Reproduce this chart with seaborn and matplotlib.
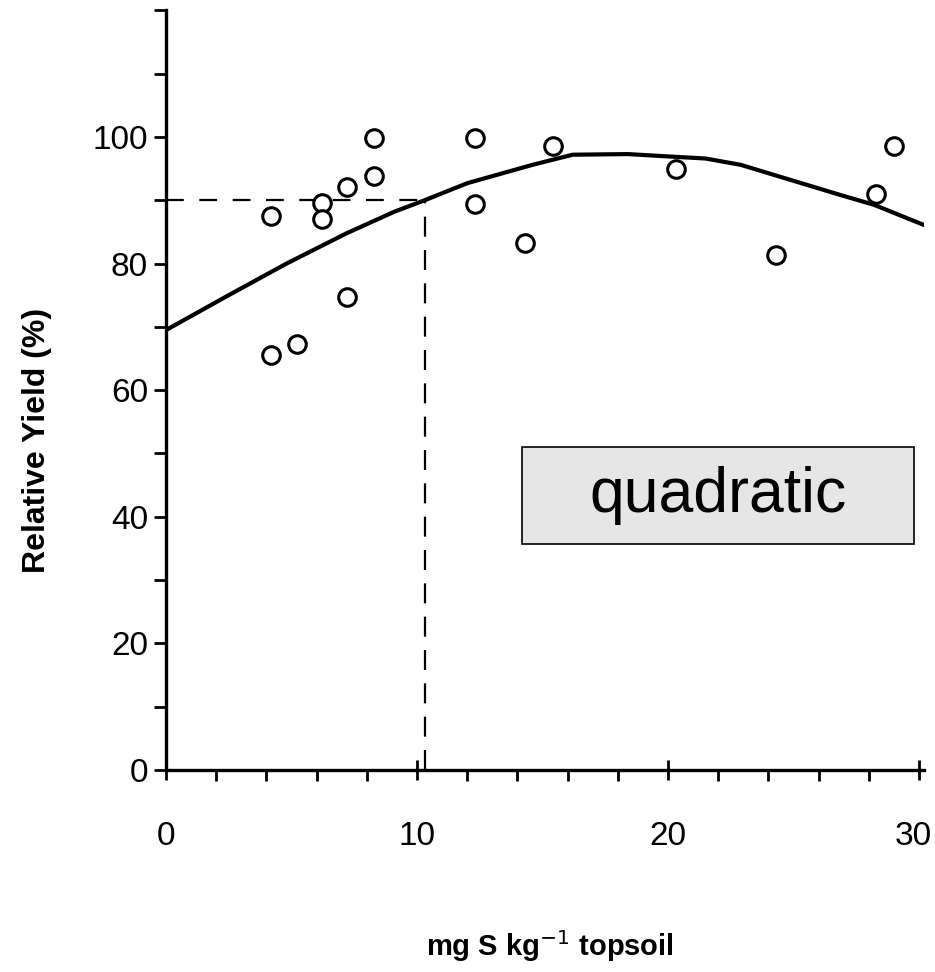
import matplotlib
matplotlib.use("Agg")
import matplotlib.pyplot as plt
import matplotlib.transforms as mtransforms
import seaborn as sns
import pandas as pd
from matplotlib.patches import Rectangle
from matplotlib.ticker import FixedLocator

# ---- data ----
soil_s = [4.2, 4.2, 5.2, 6.2, 6.2, 7.2, 7.2, 8.3, 8.3, 12.3, 12.3, 14.3, 15.4, 20.3, 24.3, 28.3, 29.0]
rel_yield = [87.5, 65.6, 67.3, 89.6, 87.0, 92.1, 74.8, 99.9, 93.8, 99.8, 89.4, 83.2, 98.5, 94.9, 81.4, 91.0, 98.5]

curve_x = [0, 2.4, 4.8, 7.2, 9.1, 10.3, 12.0, 14.6, 16.2, 18.4, 19.7, 21.5, 22.9, 24.9, 26.9, 28.2, 30.2]
curve_y = [69.5, 74.8, 80.0, 84.8, 88.2, 90.0, 92.7, 95.6, 97.2, 97.3, 97.0, 96.6, 95.6, 93.2, 90.8, 89.3, 86.1]

critical_x = 10.3
critical_y = 90

x_ticks = [0, 10, 20, 30]
y_ticks = [0, 20, 40, 60, 80, 100]
box_label = "quadratic"

pts = pd.DataFrame({"s": soil_s, "y": rel_yield})
crv = pd.DataFrame({"x": curve_x, "y": curve_y})

sns.set_theme(style="white")
plt.rcParams["font.family"] = ["Liberation Sans", "DejaVu Sans"]
plt.rcParams["text.color"] = "black"
plt.rcParams["xtick.color"] = "black"
plt.rcParams["ytick.color"] = "black"
plt.rcParams["axes.labelcolor"] = "black"

fig = plt.figure(figsize=(9.35, 9.72), dpi=100)
ax = fig.add_axes([166 / 935, 1 - 770 / 972, (924 - 166) / 935, 759.6 / 972])

# dashed critical-level lines
ax.plot([0, critical_x], [critical_y, critical_y], color="black", lw=1.6,
        dashes=(8, 7), zorder=2)
ax.plot([critical_x, critical_x], [0, critical_y], color="black", lw=1.6,
        dashes=(9, 6), zorder=2)

sns.lineplot(data=crv, x="x", y="y", ax=ax, color="black", linewidth=3.0,
             sort=True, zorder=3)
sns.scatterplot(data=pts, x="s", y="y", ax=ax, s=160, facecolor="white",
                edgecolor="black", linewidth=2.2, zorder=4)

ax.set_xlim(0, 30.2)
ax.set_ylim(0, 120)

for side in ["top", "right"]:
    ax.spines[side].set_visible(False)
for side in ["left", "bottom"]:
    ax.spines[side].set_linewidth(2.4)
    ax.spines[side].set_color("black")

ax.set_xticks(x_ticks)
ax.set_xticklabels([str(v) for v in x_ticks])
ax.set_yticks(y_ticks)
ax.set_yticklabels([str(v) for v in y_ticks])
ax.xaxis.set_minor_locator(FixedLocator([2, 4, 6, 8, 12, 14, 16, 18, 22, 24, 26, 28]))
ax.yaxis.set_minor_locator(FixedLocator([10, 30, 50, 70, 90, 110, 120]))

ax.tick_params(axis="x", which="major", direction="inout", length=14, width=2,
               colors="black", labelsize=24, pad=30, bottom=True)
ax.tick_params(axis="x", which="minor", direction="out", length=8, width=2,
               colors="black", bottom=True)
ax.tick_params(axis="y", which="major", direction="out", length=9, width=2,
               colors="black", labelsize=24, pad=4, left=True)
ax.tick_params(axis="y", which="minor", direction="out", length=9, width=2,
               colors="black", left=True)

# nudge the last x tick label slightly left so it stays inside the figure
last = ax.get_xticklabels()[-1]
last.set_transform(last.get_transform() +
                   mtransforms.ScaledTranslation(-6 / 100, 0, fig.dpi_scale_trans))

ax.set_xlabel("mg S kg$^{-1}$ topsoil", fontsize=21, fontweight="bold", color="black")
ax.set_ylabel("Relative Yield (%)", fontsize=23, fontweight="bold", color="black")
ax.xaxis.set_label_coords((550 - 166) / 758, (770 - 928) / 759.6)
ax.yaxis.set_label_coords((52 - 166) / 758, (770 - 440) / 759.6)

# label box
ax.add_patch(Rectangle((14.2, 35.7), 29.8 - 14.2, 51.0 - 35.7, facecolor="#e6e6e6",
                       edgecolor="black", linewidth=1.2, zorder=5, clip_on=False))
ax.text((14.2 + 29.8) / 2, 43.4, box_label, fontsize=45, ha="center", va="center",
        color="black", zorder=6)

fig.savefig("out.png", dpi=100, facecolor="white")
